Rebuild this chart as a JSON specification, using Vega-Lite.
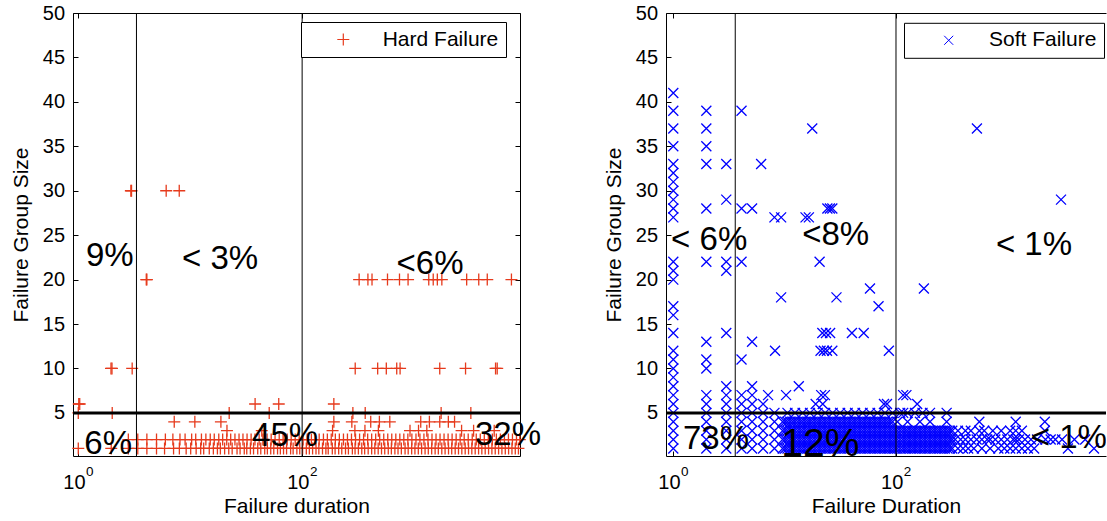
{
"$schema": "https://vega.github.io/schema/vega-lite/v6.json",
"background": "white",
"padding": {"left": 10, "top": 3, "right": 0, "bottom": 0},
"bounds": "flush",
"spacing": 146,
"config": {
 "view": {"stroke": null},
 "font": "Liberation Sans",
 "axis": {"grid": false, "domainColor": "black", "domainWidth": 1, "tickColor": "black", "labelColor": "black", "titleColor": "black", "labelFont": "Liberation Sans", "titleFont": "Liberation Sans", "labelFontSize": 20, "titleFontSize": 21, "titleFontWeight": "normal", "tickSize": -5, "labelFlush": false, "labelOverlap": false},
 "text": {"font": "Liberation Sans", "color": "black"}
},
"datasets": {
"hard": [
{"x":2.95,"y":30},{"x":2.99,"y":30},{"x":6.1,"y":30},{"x":7.98,"y":30},
{"x":4.05,"y":20},{"x":4.1,"y":20},{"x":323,"y":20},{"x":387,"y":20},{"x":421,"y":20},{"x":579,"y":20},{"x":741,"y":20},{"x":884,"y":20},{"x":1353,"y":20},{"x":1483,"y":20},{"x":1614,"y":20},{"x":1771,"y":20},{"x":2951,"y":20},{"x":3784,"y":20},{"x":4508,"y":20},{"x":7413,"y":20},
{"x":1.96,"y":10},{"x":2.0,"y":10},{"x":3.03,"y":10},{"x":298,"y":10},{"x":473,"y":10},{"x":565,"y":10},{"x":700,"y":10},{"x":750,"y":10},{"x":1696,"y":10},{"x":2884,"y":10},{"x":5346,"y":10},{"x":5531,"y":10},
{"x":1.01,"y":6},{"x":1.03,"y":6},{"x":38,"y":6},{"x":61.8,"y":6},{"x":192,"y":6},
{"x":1.0,"y":5},{"x":2.01,"y":5},{"x":22.3,"y":5},{"x":50.8,"y":5},{"x":284,"y":5},{"x":366,"y":5},{"x":1745,"y":5},{"x":3216,"y":5},
{"x":7.2,"y":4},{"x":11,"y":4},{"x":18.8,"y":4},{"x":192,"y":4},{"x":278,"y":4},{"x":410,"y":4},{"x":490,"y":4},{"x":607,"y":4},{"x":1147,"y":4},{"x":1371,"y":4},{"x":1696,"y":4},{"x":2024,"y":4},{"x":2300,"y":4},
{"x":21.3,"y":3},{"x":43.6,"y":3},{"x":187,"y":3},{"x":296,"y":3},{"x":364,"y":3},{"x":480,"y":3},{"x":920,"y":3},{"x":1096,"y":3},{"x":1300,"y":3},{"x":2658,"y":3},{"x":3403,"y":3},{"x":5200,"y":3},
{"x":2.8,"y":2},{"x":3.4,"y":2},{"x":4.1,"y":2},{"x":5.0,"y":2},{"x":6.0,"y":2},{"x":7.0,"y":2},{"x":8.1,"y":2},{"x":9.0,"y":2},{"x":10.3,"y":2},{"x":11.2,"y":2},{"x":12.6,"y":2},{"x":13.8,"y":2},{"x":15.1,"y":2},{"x":16.4,"y":2},{"x":18.0,"y":2},{"x":19.5,"y":2},{"x":21.2,"y":2},{"x":23.0,"y":2},{"x":25.1,"y":2},{"x":27.3,"y":2},{"x":29.6,"y":2},{"x":32.2,"y":2},{"x":35.0,"y":2},{"x":37.9,"y":2},{"x":41.3,"y":2},{"x":44.6,"y":2},{"x":48.6,"y":2},{"x":52.9,"y":2},{"x":57.3,"y":2},{"x":62.4,"y":2},{"x":67.6,"y":2},{"x":73.5,"y":2},{"x":79.8,"y":2},{"x":86.7,"y":2},{"x":94.1,"y":2},{"x":102,"y":2},{"x":111,"y":2},{"x":121,"y":2},{"x":131,"y":2},{"x":142,"y":2},{"x":155,"y":2},{"x":168,"y":2},{"x":182,"y":2},{"x":198,"y":2},{"x":215,"y":2},{"x":234,"y":2},{"x":254,"y":2},{"x":276,"y":2},{"x":300,"y":2},{"x":326,"y":2},{"x":354,"y":2},{"x":385,"y":2},{"x":418,"y":2},{"x":454,"y":2},{"x":493,"y":2},{"x":536,"y":2},{"x":582,"y":2},{"x":632,"y":2},{"x":687,"y":2},{"x":746,"y":2},{"x":810,"y":2},{"x":880,"y":2},{"x":956,"y":2},{"x":1040,"y":2},{"x":1128,"y":2},{"x":1225,"y":2},{"x":1331,"y":2},{"x":1446,"y":2},{"x":1571,"y":2},{"x":1706,"y":2},{"x":1853,"y":2},{"x":2014,"y":2},{"x":2187,"y":2},{"x":2376,"y":2},{"x":2581,"y":2},{"x":2804,"y":2},{"x":3046,"y":2},{"x":3309,"y":2},{"x":3594,"y":2},{"x":3904,"y":2},{"x":4241,"y":2},{"x":4607,"y":2},{"x":5004,"y":2},{"x":5436,"y":2},{"x":5905,"y":2},{"x":6415,"y":2},{"x":6968,"y":2},{"x":7569,"y":2},{"x":8222,"y":2},{"x":8800,"y":2},
{"x":1.0,"y":1},{"x":1.97,"y":1},{"x":2.8,"y":1},{"x":3.4,"y":1},{"x":4.1,"y":1},{"x":5.0,"y":1},{"x":5.9,"y":1},{"x":7.1,"y":1},{"x":8.0,"y":1},{"x":9.2,"y":1},{"x":10.1,"y":1},{"x":11.3,"y":1},{"x":12.4,"y":1},{"x":13.2,"y":1},{"x":14.8,"y":1},{"x":16.1,"y":1},{"x":17.5,"y":1},{"x":18.6,"y":1},{"x":20.3,"y":1},{"x":22.1,"y":1},{"x":23.7,"y":1},{"x":26.2,"y":1},{"x":27.9,"y":1},{"x":30.4,"y":1},{"x":32.0,"y":1},{"x":34.5,"y":1},{"x":36.8,"y":1},{"x":40.1,"y":1},{"x":42.7,"y":1},{"x":46.3,"y":1},{"x":48.9,"y":1},{"x":52.4,"y":1},{"x":55.8,"y":1},{"x":60.3,"y":1},{"x":63.9,"y":1},{"x":68.2,"y":1},{"x":72.6,"y":1},{"x":78.9,"y":1},{"x":83.1,"y":1},{"x":89.7,"y":1},{"x":95.2,"y":1},{"x":101,"y":1},{"x":109,"y":1},{"x":116,"y":1},{"x":124,"y":1},{"x":133,"y":1},{"x":141,"y":1},{"x":152,"y":1},{"x":163,"y":1},{"x":171,"y":1},{"x":186,"y":1},{"x":197,"y":1},{"x":212,"y":1},{"x":226,"y":1},{"x":244,"y":1},{"x":259,"y":1},{"x":281,"y":1},{"x":297,"y":1},{"x":318,"y":1},{"x":341,"y":1},{"x":362,"y":1},{"x":389,"y":1},{"x":418,"y":1},{"x":446,"y":1},{"x":478,"y":1},{"x":512,"y":1},{"x":547,"y":1},{"x":588,"y":1},{"x":627,"y":1},{"x":674,"y":1},{"x":719,"y":1},{"x":770,"y":1},{"x":831,"y":1},{"x":886,"y":1},{"x":952,"y":1},{"x":1018,"y":1},{"x":1091,"y":1},{"x":1168,"y":1},{"x":1254,"y":1},{"x":1340,"y":1},{"x":1437,"y":1},{"x":1542,"y":1},{"x":1647,"y":1},{"x":1769,"y":1},{"x":1893,"y":1},{"x":2031,"y":1},{"x":2170,"y":1},{"x":2330,"y":1},{"x":2494,"y":1},{"x":2671,"y":1},{"x":2862,"y":1},{"x":3066,"y":1},{"x":3281,"y":1},{"x":3516,"y":1},{"x":3770,"y":1},{"x":4032,"y":1},{"x":4320,"y":1},{"x":4630,"y":1},{"x":4958,"y":1},{"x":5310,"y":1},{"x":5690,"y":1},{"x":6092,"y":1},{"x":6530,"y":1},{"x":6990,"y":1},{"x":7490,"y":1},{"x":8020,"y":1},{"x":8560,"y":1}
],
"soft": [
{"x":1,"y":41},{"x":1,"y":39},{"x":1,"y":37},{"x":1,"y":35},{"x":1,"y":33},{"x":1,"y":32},{"x":1,"y":31},{"x":1,"y":30},{"x":1,"y":29},{"x":1,"y":28},{"x":1,"y":27},{"x":1,"y":22},{"x":1,"y":21},{"x":1,"y":20},{"x":1,"y":17},{"x":1,"y":16},{"x":1,"y":14},{"x":1,"y":12},{"x":1,"y":11},{"x":1,"y":10},{"x":1,"y":9},{"x":1,"y":8},{"x":1,"y":7},{"x":1,"y":6},{"x":1,"y":5},{"x":1,"y":4},{"x":1,"y":3},{"x":1,"y":2},{"x":1,"y":1},
{"x":1.98,"y":39},{"x":1.98,"y":37},{"x":1.98,"y":35},{"x":1.98,"y":33},{"x":1.98,"y":28},{"x":1.98,"y":22},{"x":1.98,"y":13},{"x":1.98,"y":11},{"x":1.98,"y":10},{"x":1.98,"y":7},{"x":1.98,"y":6},{"x":1.98,"y":5},{"x":1.98,"y":4},{"x":1.98,"y":3},{"x":1.98,"y":2},{"x":1.98,"y":1},
{"x":2.99,"y":33},{"x":2.99,"y":29},{"x":2.99,"y":22},{"x":2.99,"y":21},{"x":2.99,"y":14},{"x":2.99,"y":8},{"x":2.99,"y":7},{"x":2.99,"y":6},{"x":2.99,"y":5},{"x":2.99,"y":4},{"x":2.99,"y":3},{"x":2.99,"y":2},{"x":2.99,"y":1},
{"x":4.1,"y":39},{"x":4.1,"y":28},{"x":4.1,"y":22},{"x":4.1,"y":11},{"x":4.1,"y":7},{"x":4.1,"y":6},{"x":4.1,"y":5},{"x":4.1,"y":4},{"x":4.1,"y":3},{"x":4.1,"y":2},{"x":4.1,"y":1},
{"x":5.1,"y":28},{"x":5.1,"y":13},{"x":5.1,"y":8},{"x":5.1,"y":7},{"x":5.1,"y":6},{"x":5.1,"y":5},{"x":5.1,"y":4},{"x":5.1,"y":3},{"x":5.1,"y":2},{"x":5.1,"y":1},
{"x":6.15,"y":33},{"x":6.4,"y":6},{"x":6.4,"y":5},{"x":6.4,"y":4},{"x":6.4,"y":3},{"x":6.4,"y":2},{"x":6.4,"y":1},{"x":7.1,"y":7},
{"x":8.1,"y":5},{"x":8.1,"y":4},{"x":8.1,"y":3},{"x":8.1,"y":2},{"x":8.1,"y":1},
{"x":8.1,"y":27},{"x":9.3,"y":27},{"x":15.4,"y":27},{"x":16.5,"y":27},{"x":17.7,"y":37},{"x":24.2,"y":28},{"x":25.5,"y":28},{"x":26.8,"y":28},{"x":533,"y":37},{"x":3034,"y":29},
{"x":20.6,"y":22},{"x":9.3,"y":18},{"x":29.2,"y":18},{"x":58.4,"y":19},{"x":69.7,"y":17},{"x":178,"y":19},{"x":21.8,"y":14},{"x":23.5,"y":14},{"x":25.6,"y":14},{"x":40.2,"y":14},{"x":51.3,"y":14},
{"x":8.2,"y":12},{"x":21,"y":12},{"x":22.5,"y":12},{"x":24,"y":12},{"x":26.8,"y":12},{"x":86.3,"y":12},
{"x":10.3,"y":7},{"x":13.4,"y":8},{"x":19,"y":6},{"x":21.3,"y":7},{"x":23,"y":7},{"x":22,"y":6},{"x":78,"y":6},{"x":83,"y":6},{"x":116,"y":7},{"x":124,"y":7},{"x":155,"y":6},{"x":116,"y":5},{"x":202,"y":5},{"x":285,"y":5},{"x":285,"y":4},
{"x":9.6,"y":1},{"x":9.6,"y":2},{"x":9.6,"y":3},{"x":9.6,"y":4},
{"x":10.1,"y":1},{"x":10.1,"y":2},{"x":10.1,"y":3},{"x":10.1,"y":4},
{"x":10.6,"y":1},{"x":10.6,"y":2},{"x":10.6,"y":3},{"x":10.6,"y":4},{"x":10.6,"y":5},
{"x":11.2,"y":1},{"x":11.2,"y":2},{"x":11.2,"y":3},{"x":11.2,"y":4},
{"x":11.8,"y":1},{"x":11.8,"y":2},{"x":11.8,"y":3},{"x":11.8,"y":4},
{"x":12.4,"y":1},{"x":12.4,"y":2},{"x":12.4,"y":3},{"x":12.4,"y":4},{"x":12.4,"y":5},
{"x":13.1,"y":1},{"x":13.1,"y":2},{"x":13.1,"y":3},{"x":13.1,"y":4},
{"x":13.8,"y":1},{"x":13.8,"y":2},{"x":13.8,"y":3},{"x":13.8,"y":4},
{"x":14.5,"y":1},{"x":14.5,"y":2},{"x":14.5,"y":3},{"x":14.5,"y":4},{"x":14.5,"y":5},
{"x":15.3,"y":1},{"x":15.3,"y":2},{"x":15.3,"y":3},{"x":15.3,"y":4},
{"x":16.1,"y":1},{"x":16.1,"y":2},{"x":16.1,"y":3},{"x":16.1,"y":4},
{"x":16.9,"y":1},{"x":16.9,"y":2},{"x":16.9,"y":3},{"x":16.9,"y":4},{"x":16.9,"y":5},
{"x":17.8,"y":1},{"x":17.8,"y":2},{"x":17.8,"y":3},{"x":17.8,"y":4},
{"x":18.8,"y":1},{"x":18.8,"y":2},{"x":18.8,"y":3},{"x":18.8,"y":4},
{"x":19.8,"y":1},{"x":19.8,"y":2},{"x":19.8,"y":3},{"x":19.8,"y":4},{"x":19.8,"y":5},
{"x":20.8,"y":1},{"x":20.8,"y":2},{"x":20.8,"y":3},{"x":20.8,"y":4},
{"x":21.9,"y":1},{"x":21.9,"y":2},{"x":21.9,"y":3},{"x":21.9,"y":4},
{"x":23.1,"y":1},{"x":23.1,"y":2},{"x":23.1,"y":3},{"x":23.1,"y":4},{"x":23.1,"y":5},
{"x":24.3,"y":1},{"x":24.3,"y":2},{"x":24.3,"y":3},{"x":24.3,"y":4},
{"x":25.6,"y":1},{"x":25.6,"y":2},{"x":25.6,"y":3},{"x":25.6,"y":4},
{"x":27.0,"y":1},{"x":27.0,"y":2},{"x":27.0,"y":3},{"x":27.0,"y":4},{"x":27.0,"y":5},
{"x":28.4,"y":1},{"x":28.4,"y":2},{"x":28.4,"y":3},{"x":28.4,"y":4},
{"x":29.9,"y":1},{"x":29.9,"y":2},{"x":29.9,"y":3},{"x":29.9,"y":4},
{"x":31.5,"y":1},{"x":31.5,"y":2},{"x":31.5,"y":3},{"x":31.5,"y":4},{"x":31.5,"y":5},
{"x":33.2,"y":1},{"x":33.2,"y":2},{"x":33.2,"y":3},{"x":33.2,"y":4},
{"x":34.9,"y":1},{"x":34.9,"y":2},{"x":34.9,"y":3},{"x":34.9,"y":4},
{"x":36.8,"y":1},{"x":36.8,"y":2},{"x":36.8,"y":3},{"x":36.8,"y":4},{"x":36.8,"y":5},
{"x":38.7,"y":1},{"x":38.7,"y":2},{"x":38.7,"y":3},{"x":38.7,"y":4},
{"x":40.8,"y":1},{"x":40.8,"y":2},{"x":40.8,"y":3},{"x":40.8,"y":4},
{"x":42.9,"y":1},{"x":42.9,"y":2},{"x":42.9,"y":3},{"x":42.9,"y":4},{"x":42.9,"y":5},
{"x":45.2,"y":1},{"x":45.2,"y":2},{"x":45.2,"y":3},{"x":45.2,"y":4},
{"x":47.6,"y":1},{"x":47.6,"y":2},{"x":47.6,"y":3},{"x":47.6,"y":4},
{"x":50.1,"y":1},{"x":50.1,"y":2},{"x":50.1,"y":3},{"x":50.1,"y":4},{"x":50.1,"y":5},
{"x":52.8,"y":1},{"x":52.8,"y":2},{"x":52.8,"y":3},{"x":52.8,"y":4},
{"x":55.6,"y":1},{"x":55.6,"y":2},{"x":55.6,"y":3},{"x":55.6,"y":4},
{"x":58.5,"y":1},{"x":58.5,"y":2},{"x":58.5,"y":3},{"x":58.5,"y":4},{"x":58.5,"y":5},
{"x":61.6,"y":1},{"x":61.6,"y":2},{"x":61.6,"y":3},{"x":61.6,"y":4},
{"x":64.9,"y":1},{"x":64.9,"y":2},{"x":64.9,"y":3},{"x":64.9,"y":4},
{"x":68.3,"y":1},{"x":68.3,"y":2},{"x":68.3,"y":3},{"x":68.3,"y":4},{"x":68.3,"y":5},
{"x":71.9,"y":1},{"x":71.9,"y":2},{"x":71.9,"y":3},{"x":71.9,"y":4},
{"x":75.7,"y":1},{"x":75.7,"y":2},{"x":75.7,"y":3},{"x":75.7,"y":4},
{"x":79.7,"y":1},{"x":79.7,"y":2},{"x":79.7,"y":3},{"x":79.7,"y":4},{"x":79.7,"y":5},
{"x":84.0,"y":1},{"x":84.0,"y":2},{"x":84.0,"y":3},{"x":84.0,"y":4},
{"x":88.4,"y":1},{"x":88.4,"y":2},{"x":88.4,"y":3},{"x":88.4,"y":4},
{"x":93.1,"y":1},{"x":93.1,"y":2},{"x":93.1,"y":3},{"x":93.1,"y":4},{"x":93.1,"y":5},
{"x":98,"y":1},{"x":98,"y":2},{"x":98,"y":3},
{"x":103,"y":1},{"x":103,"y":2},{"x":103,"y":3},{"x":103,"y":4},
{"x":109,"y":1},{"x":109,"y":2},{"x":109,"y":3},{"x":109,"y":5},
{"x":115,"y":1},{"x":115,"y":2},{"x":115,"y":3},
{"x":121,"y":1},{"x":121,"y":2},{"x":121,"y":3},
{"x":127,"y":1},{"x":127,"y":2},{"x":127,"y":3},{"x":127,"y":4},{"x":127,"y":5},
{"x":134,"y":1},{"x":134,"y":2},{"x":134,"y":3},
{"x":141,"y":1},{"x":141,"y":2},{"x":141,"y":3},
{"x":148,"y":1},{"x":148,"y":2},{"x":148,"y":3},{"x":148,"y":5},
{"x":156,"y":1},{"x":156,"y":2},{"x":156,"y":3},
{"x":164,"y":1},{"x":164,"y":2},{"x":164,"y":3},{"x":164,"y":4},
{"x":173,"y":1},{"x":173,"y":2},{"x":173,"y":3},{"x":173,"y":5},
{"x":182,"y":1},{"x":182,"y":2},{"x":182,"y":3},
{"x":192,"y":1},{"x":192,"y":2},{"x":192,"y":3},
{"x":202,"y":1},{"x":202,"y":2},{"x":202,"y":3},{"x":202,"y":4},
{"x":213,"y":1},{"x":213,"y":2},{"x":213,"y":3},
{"x":224,"y":1},{"x":224,"y":2},{"x":224,"y":3},
{"x":236,"y":1},{"x":236,"y":2},{"x":236,"y":3},
{"x":248,"y":1},{"x":248,"y":2},{"x":248,"y":3},
{"x":261,"y":1},{"x":261,"y":2},{"x":261,"y":3},
{"x":275,"y":1},{"x":275,"y":2},{"x":275,"y":3},
{"x":290,"y":1},{"x":290,"y":2},{"x":290,"y":3},
{"x":305,"y":1},{"x":305,"y":2},{"x":305,"y":3},
{"x":320,"y":1},{"x":320,"y":2},{"x":320,"y":3},{"x":340,"y":2},{"x":360,"y":1},{"x":360,"y":3},{"x":380,"y":2},{"x":400,"y":1},{"x":420,"y":2},{"x":420,"y":3},{"x":445,"y":1},{"x":470,"y":2},{"x":470,"y":3},{"x":500,"y":1},{"x":530,"y":2},{"x":560,"y":4},{"x":560,"y":3},{"x":590,"y":2},{"x":590,"y":1},{"x":620,"y":3},{"x":660,"y":2},{"x":700,"y":1},{"x":700,"y":2},{"x":740,"y":3},{"x":780,"y":2},{"x":830,"y":1},{"x":880,"y":2},{"x":880,"y":3},{"x":940,"y":1},{"x":1000,"y":2},{"x":1060,"y":3},{"x":1060,"y":1},{"x":1130,"y":2},{"x":1189,"y":4},{"x":1189,"y":3},{"x":1190,"y":2},{"x":1190,"y":1},{"x":1270,"y":2},{"x":1350,"y":1},{"x":1350,"y":3},{"x":1440,"y":2},{"x":1530,"y":1},{"x":1630,"y":2},{"x":1740,"y":1},{"x":1850,"y":2},{"x":2170,"y":4},{"x":2170,"y":3},{"x":2200,"y":2},{"x":2450,"y":2},{"x":2700,"y":2},{"x":3100,"y":2},{"x":3500,"y":1},{"x":4000,"y":2},{"x":5000,"y":2},{"x":6000,"y":1}
]
},
"hconcat": [
{
 "width": 447, "height": 443,
 "resolve": {"axis": {"x": "independent", "y": "independent"}},
 "layer": [
  {"data": {"name": "hard"},
   "mark": {"type": "point", "shape": "M-1,0H1M0,-1V1", "filled": false, "size": 144, "strokeWidth": 1.3, "opacity": 1},
   "encoding": {
    "x": {"field": "x", "type": "quantitative", "scale": {"type": "log", "domain": [0.897, 8840], "nice": false},
          "axis": {"orient": "bottom", "values": [1, 100], "labelExpr": "'10'", "labelPadding": 21, "labelOffset": -4.3, "title": "Failure duration", "titlePadding": 3}},
    "y": {"field": "y", "type": "quantitative", "scale": {"domain": [0.15, 50], "nice": false, "zero": false},
          "axis": {"orient": "left", "values": [5,10,15,20,25,30,35,40,45,50], "labelPadding": 13.4, "title": "Failure Group Size", "titlePadding": 11}},
    "color": {"datum": "Hard Failure", "type": "nominal", "scale": {"range": ["#e63a1c"]},
              "legend": {"orient": "none", "legendX": 228, "legendY": 9, "title": null, "strokeColor": "black", "fillColor": "white", "padding": 7, "labelFont": "Liberation Sans", "labelFontSize": 21, "labelColor": "black", "symbolType": "M-1,0H1M0,-1V1", "symbolSize": 144, "symbolStrokeWidth": 1.2, "symbolOffset": 24.8, "labelOffset": 28.9, "cornerRadius": 0}}
   }},
  {"data": {"values": [{"x": 3.31}, {"x": 100}]},
   "mark": {"type": "rule", "color": "black", "strokeWidth": 1},
   "encoding": {"x": {"field": "x", "type": "quantitative", "scale": {"type": "log", "domain": [0.897, 8840], "nice": false},
      "axis": {"orient": "top", "values": [1, 100], "labels": false, "title": null}}}},
  {"data": {"values": [{"y": 5}]},
   "mark": {"type": "rule", "color": "black", "strokeWidth": 3},
   "encoding": {"y": {"field": "y", "type": "quantitative", "scale": {"domain": [0.15, 50], "nice": false, "zero": false},
      "axis": {"orient": "right", "values": [5,10,15,20,25,30,35,40,45,50], "labels": false, "title": null}}}},
  {"data": {"values": [{"x": 1.91, "y": 22.6, "t": "9%"}, {"x": 18.5, "y": 22.3, "t": "< 3%"}, {"x": 1390, "y": 21.7, "t": "<6%"}, {"x": 1.85, "y": 1.55, "t": "6%"}, {"x": 70.5, "y": 2.35, "t": "45%"}, {"x": 6900, "y": 2.5, "t": "32%"}]},
   "mark": {"type": "text", "fontSize": 33, "align": "center", "baseline": "middle", "color": "black"},
   "encoding": {
    "x": {"field": "x", "type": "quantitative", "scale": {"type": "log", "domain": [0.897, 8840], "nice": false}, "axis": null},
    "y": {"field": "y", "type": "quantitative", "scale": {"domain": [0.15, 50], "nice": false, "zero": false}, "axis": null},
    "text": {"field": "t", "type": "nominal"}}},
  {"data": {"values": [{"x": 1, "s": "0"}, {"x": 100, "s": "2"}]},
   "mark": {"type": "text", "fontSize": 13.5, "align": "center", "baseline": "alphabetic", "dx": 11.5, "dy": 20, "color": "black"},
   "encoding": {
    "x": {"field": "x", "type": "quantitative", "scale": {"type": "log", "domain": [0.897, 8840], "nice": false}, "axis": null},
    "y": {"datum": 0.15, "type": "quantitative", "scale": {"domain": [0.15, 50], "nice": false, "zero": false}, "axis": null},
    "text": {"field": "s", "type": "nominal"}}}
 ]
},
{
 "width": 440, "height": 443,
 "resolve": {"axis": {"x": "independent", "y": "independent"}},
 "layer": [
  {"data": {"name": "soft"},
   "mark": {"type": "point", "shape": "M-1,-1L1,1M-1,1L1,-1", "filled": false, "size": 100, "strokeWidth": 1.3, "opacity": 1, "clip": true},
   "encoding": {
    "x": {"field": "x", "type": "quantitative", "scale": {"type": "log", "domain": [0.86, 7690], "nice": false},
          "axis": {"orient": "bottom", "values": [1, 100], "labelExpr": "'10'", "labelPadding": 21, "labelOffset": -4.3, "title": "Failure Duration", "titlePadding": 3}},
    "y": {"field": "y", "type": "quantitative", "scale": {"domain": [0.15, 50], "nice": false, "zero": false},
          "axis": {"orient": "left", "values": [5,10,15,20,25,30,35,40,45,50], "labelPadding": 13.4, "title": "Failure Group Size", "titlePadding": 11}},
    "color": {"datum": "Soft Failure", "type": "nominal", "scale": {"range": ["#0000ff"]},
              "legend": {"orient": "none", "legendX": 238, "legendY": 9.8, "title": null, "strokeColor": "black", "fillColor": "white", "padding": 7, "labelFont": "Liberation Sans", "labelFontSize": 21, "labelColor": "black", "symbolType": "M-1,-1L1,1M-1,1L1,-1", "symbolSize": 81, "symbolStrokeWidth": 1, "symbolOffset": 27.2, "labelOffset": 29.8, "cornerRadius": 0}}
   }},
  {"data": {"values": [{"x": 3.6}, {"x": 100}]},
   "mark": {"type": "rule", "color": "black", "strokeWidth": 1},
   "encoding": {"x": {"field": "x", "type": "quantitative", "scale": {"type": "log", "domain": [0.86, 7690], "nice": false},
      "axis": {"orient": "top", "values": [1, 100], "labels": false, "title": null}}}},
  {"data": {"values": [{"y": 5}]},
   "mark": {"type": "rule", "color": "black", "strokeWidth": 3},
   "encoding": {"y": {"field": "y", "type": "quantitative", "scale": {"domain": [0.15, 50], "nice": false, "zero": false}, "axis": null}}},
  {"data": {"values": [{"x": 2.1, "y": 24.5, "t": "< 6%"}, {"x": 28.7, "y": 25.0, "t": "<8%"}, {"x": 1735, "y": 23.9, "t": "< 1%"}, {"x": 2.42, "y": 2.03, "t": "73%"}]},
   "mark": {"type": "text", "fontSize": 33, "align": "center", "baseline": "middle", "color": "black"},
   "encoding": {
    "x": {"field": "x", "type": "quantitative", "scale": {"type": "log", "domain": [0.86, 7690], "nice": false}, "axis": null},
    "y": {"field": "y", "type": "quantitative", "scale": {"domain": [0.15, 50], "nice": false, "zero": false}, "axis": null},
    "text": {"field": "t", "type": "nominal"}}},
  {"data": {"values": [{"x": 20.9, "y": 1.51, "t": "12%"}]},
   "mark": {"type": "text", "fontSize": 39, "align": "center", "baseline": "middle", "color": "black"},
   "encoding": {
    "x": {"field": "x", "type": "quantitative", "scale": {"type": "log", "domain": [0.86, 7690], "nice": false}, "axis": null},
    "y": {"field": "y", "type": "quantitative", "scale": {"domain": [0.15, 50], "nice": false, "zero": false}, "axis": null},
    "text": {"field": "t", "type": "nominal"}}},
  {"data": {"values": [{"x": 1622, "y": 2.13, "t": "< 1%"}]},
   "mark": {"type": "text", "fontSize": 33, "align": "left", "baseline": "middle", "color": "black", "clip": true},
   "encoding": {
    "x": {"field": "x", "type": "quantitative", "scale": {"type": "log", "domain": [0.86, 7690], "nice": false}, "axis": null},
    "y": {"field": "y", "type": "quantitative", "scale": {"domain": [0.15, 50], "nice": false, "zero": false}, "axis": null},
    "text": {"field": "t", "type": "nominal"}}},
  {"data": {"values": [{"x": 1, "s": "0"}, {"x": 100, "s": "2"}]},
   "mark": {"type": "text", "fontSize": 13.5, "align": "center", "baseline": "alphabetic", "dx": 11.5, "dy": 20, "color": "black"},
   "encoding": {
    "x": {"field": "x", "type": "quantitative", "scale": {"type": "log", "domain": [0.86, 7690], "nice": false}, "axis": null},
    "y": {"datum": 0.15, "type": "quantitative", "scale": {"domain": [0.15, 50], "nice": false, "zero": false}, "axis": null},
    "text": {"field": "s", "type": "nominal"}}}
 ]
}
],
"resolve": {"scale": {"x": "independent", "y": "independent", "color": "independent"}, "legend": {"color": "independent"}}
}
